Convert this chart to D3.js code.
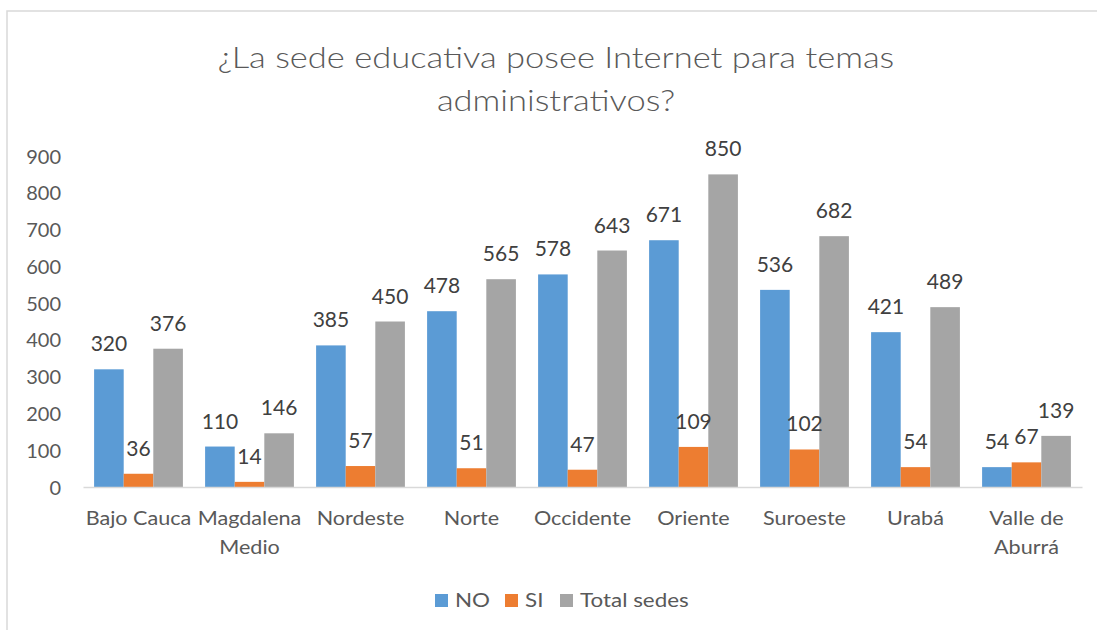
<!DOCTYPE html>
<html>
<head>
<meta charset="utf-8">
<script src="https://cdn.jsdelivr.net/npm/d3@7"></script>
<style>
  html, body { margin: 0; padding: 0; background: #fff; }
  svg { display: block; font-family: Lato, "Open Sans", sans-serif; }
</style>
</head>
<body>
<svg id="chart" width="1097" height="630"></svg>
<script>
const categories = ["Bajo Cauca", "Magdalena Medio", "Nordeste", "Norte", "Occidente", "Oriente", "Suroeste", "Urabá", "Valle de Aburrá"];
const categoryLines = [["Bajo Cauca"], ["Magdalena", "Medio"], ["Nordeste"], ["Norte"], ["Occidente"], ["Oriente"], ["Suroeste"], ["Urabá"], ["Valle de", "Aburrá"]];
const seriesNames = ["NO", "SI", "Total sedes"];
const noValues = [320, 110, 385, 478, 578, 671, 536, 421, 54];
const siValues = [36, 14, 57, 51, 47, 109, 102, 54, 67];
const totalValues = [376, 146, 450, 565, 643, 850, 682, 489, 139];
const yTicks = [0, 100, 200, 300, 400, 500, 600, 700, 800, 900];
const colors = ["#5B9BD5", "#ED7D31", "#A5A5A5"];
const titleLines = ["¿La sede educativa posee Internet para temas", "administrativos?"];

const series = [noValues, siValues, totalValues];
const svg = d3.select("#chart");

// chart border
svg.append("rect").attr("x", 7).attr("y", 11).attr("width", 1200).attr("height", 700)
  .attr("fill", "none").attr("stroke", "#D9D9D9").attr("stroke-width", 1.5);

// title
svg.append("g").selectAll("text").data(titleLines).join("text")
  .attr("transform", (d, i) => `translate(556,${68 + i * 43}) scale(1.19,1)`)
  .attr("text-anchor", "middle").attr("font-size", 29).attr("font-weight", 300).attr("fill", "#595959")
  .text(d => d);

const x0 = d3.scaleBand().domain(categories).range([83, 1082]).paddingInner(0.2).paddingOuter(0.1);
const x1 = d3.scaleBand().domain(seriesNames).range([0, x0.bandwidth()]);
const y = d3.scaleLinear().domain([0, 900]).range([487, 156]);

// y axis labels
const yAxis = d3.axisLeft(y).tickValues(yTicks).tickSize(0).tickPadding(0);
const gy = svg.append("g").attr("transform", "translate(61,0)").call(yAxis);
gy.select(".domain").remove();
gy.selectAll("text").attr("font-size", 20).attr("fill", "#595959").attr("font-family", "Lato, sans-serif").attr("dy", "0.35em");

// bars
const groups = svg.append("g").selectAll("g").data(categories).join("g")
  .attr("transform", d => `translate(${x0(d)},0)`);
groups.selectAll("rect").data((c, i) => seriesNames.map((s, j) => ({s, j, v: series[j][i]})))
  .join("rect")
  .attr("x", d => x1(d.s)).attr("width", x1.bandwidth())
  .attr("y", d => y(d.v)).attr("height", d => y(0) - y(d.v))
  .attr("fill", d => colors[d.j]);
groups.selectAll("text.lbl").data((c, i) => seriesNames.map((s, j) => ({s, j, v: series[j][i]})))
  .join("text").attr("class", "lbl")
  .attr("x", d => x1(d.s) + x1.bandwidth() / 2).attr("y", d => y(d.v) - 18)
  .attr("text-anchor", "middle").attr("font-size", 21).attr("fill", "#404040")
  .text(d => d.v);

// x axis line
const xAxis = d3.axisBottom(x0).tickSize(0).tickFormat("");
const gx = svg.append("g").attr("transform", `translate(0,${y(0)})`).call(xAxis);
gx.select(".domain").attr("stroke", "#D9D9D9").attr("stroke-width", 1.5);

// x labels
const xl = svg.append("g").selectAll("text").data(categories).join("text")
  .attr("transform", d => `translate(${x0(d) + x0.bandwidth() / 2},525) scale(1.08,1)`)
  .attr("text-anchor", "middle").attr("font-size", 20).attr("fill", "#595959");
xl.selectAll("tspan").data((d, i) => categoryLines[i]).join("tspan")
  .attr("x", 0)
  .attr("dy", (d, i) => i === 0 ? 0 : 29).text(d => d);

// legend
const legendX = [435, 505, 560];
const lg = svg.append("g").selectAll("g").data(seriesNames).join("g")
  .attr("transform", (d, i) => `translate(${legendX[i]},594)`);
lg.append("rect").attr("width", 13).attr("height", 13).attr("fill", (d, i) => colors[i]);
lg.append("text").attr("transform", "translate(20,13) scale(1.12,1)").attr("font-size", 20).attr("fill", "#595959").text(d => d);
</script>
</body>
</html>
